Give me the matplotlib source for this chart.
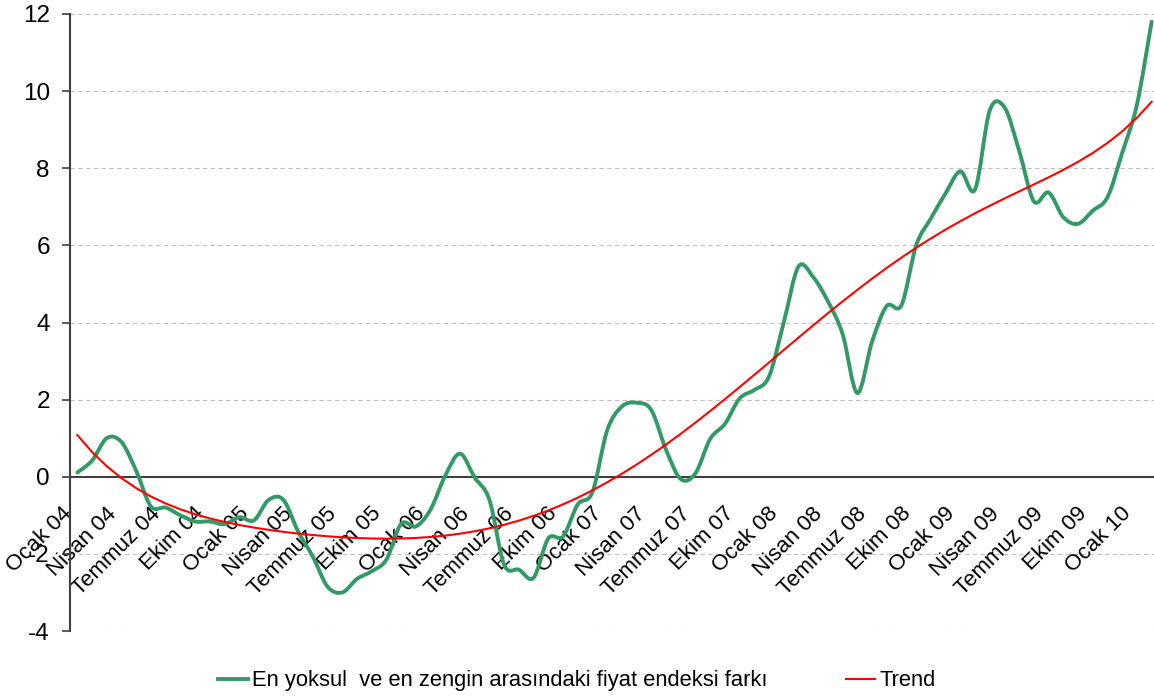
"""En yoksul ve en zengin hanelerin fiyat endeksi farkı ile polinom trend çizgisi."""

import matplotlib

matplotlib.use("Agg")
import matplotlib.pyplot as plt
import numpy as np
from matplotlib.lines import Line2D
from matplotlib.patches import PathPatch
from matplotlib.path import Path
from matplotlib.transforms import ScaledTranslation

# Aylık fark serisi: Ocak 2004 - Şubat 2010 (74 ay)
fark = [
    0.11, 0.42, 1.0, 0.9, 0.15, -0.77, -0.8, -1.0, -1.16, -1.16,
    -1.23, -1.05, -1.13, -0.6, -0.6, -1.42, -2.07, -2.85, -3.0, -2.65,
    -2.45, -2.15, -1.22, -1.29, -0.85, 0.03, 0.6, -0.02, -0.6, -2.28,
    -2.41, -2.62, -1.6, -1.55, -0.72, -0.4, 1.2, 1.82, 1.92, 1.73,
    0.7, -0.06, 0.09, 0.98, 1.37, 2.03, 2.25, 2.6, 4.0, 5.45,
    5.18, 4.55, 3.7, 2.17, 3.5, 4.43, 4.45, 6.0, 6.7, 7.35,
    7.92, 7.45, 9.5, 9.58, 8.45, 7.14, 7.37, 6.73, 6.56, 6.9,
    7.25, 8.4, 9.65, 11.8,
]

ceyrek_aylar = ["Ocak", "Nisan", "Temmuz", "Ekim"]
yillar = ["04", "05", "06", "07", "08", "09", "10"]
tick_etiketleri = [f"{ay} {yil}" for yil in yillar for ay in ceyrek_aylar][:25]
y_ticks = [-4, -2, 0, 2, 4, 6, 8, 10, 12]

SERI_ADI = "En yoksul  ve en zengin arasındaki fiyat endeksi farkı"
YESIL = "#339966"
KIRMIZI = "#ff0000"
KOYU_GRI = "#404040"

plt.rcParams["font.family"] = ["Liberation Sans", "DejaVu Sans"]
plt.rcParams["axes.unicode_minus"] = False


def smooth_path(x: np.ndarray, y: np.ndarray) -> Path:
    """Excel'in 'düzgün çizgi' seçeneğine benzer Catmull-Rom Bezier yolu kurar."""
    pts = np.column_stack([x, y])
    verts = [pts[0]]
    codes = [Path.MOVETO]
    n = len(pts)
    for i in range(n - 1):
        p0 = pts[max(i - 1, 0)]
        p1 = pts[i]
        p2 = pts[i + 1]
        p3 = pts[min(i + 2, n - 1)]
        verts += [p1 + (p2 - p0) / 6, p2 - (p3 - p1) / 6, p2]
        codes += [Path.CURVE4] * 3
    return Path(verts, codes)


def main() -> None:
    values = np.array(fark)
    months = np.arange(len(values))

    # Excel polinom eğilim çizgisi (6. derece)
    trend_poly = np.polynomial.Polynomial.fit(months + 1, values, 6)
    trend = trend_poly(months + 1)

    fig = plt.figure(figsize=(11.54, 6.97), dpi=100)
    ax = fig.add_axes([70 / 1154, 66 / 697, 1089 / 1154, 617 / 697])

    ax.add_patch(
        PathPatch(smooth_path(months, values), fill=False, edgecolor=YESIL,
                  linewidth=2.8, capstyle="round", joinstyle="round", zorder=3)
    )
    ax.plot(months, trend, color=KIRMIZI, linewidth=1.5, zorder=4)

    ax.set_xlim(-0.5, len(values) - 0.5)
    ax.set_ylim(-4, 12)

    for value in y_ticks:
        if value != 0:
            ax.axhline(value, color="#c0c0c0", linewidth=0.8, linestyle=(0, (4, 3)), zorder=1)

    for side in ["top", "right"]:
        ax.spines[side].set_visible(False)
    ax.spines["bottom"].set_position(("data", 0))
    ax.spines["bottom"].set_color(KOYU_GRI)
    ax.spines["bottom"].set_linewidth(1.5)
    ax.spines["bottom"].set_zorder(2)
    ax.spines["left"].set_color(KOYU_GRI)
    ax.spines["left"].set_linewidth(1.5)

    ax.set_yticks(y_ticks)
    ax.set_yticklabels([str(v) for v in y_ticks])
    ax.tick_params(axis="y", length=6, width=1.2, color=KOYU_GRI, pad=8.5, labelsize=17.5)

    ax.set_xticks(months[::3])
    ax.set_xticklabels(tick_etiketleri, rotation=45, ha="right", va="top",
                       rotation_mode="anchor", fontsize=16)
    ax.tick_params(axis="x", length=0, pad=19)
    offset = ScaledTranslation(-0.16, 0, fig.dpi_scale_trans)
    for label in ax.get_xticklabels():
        label.set_transform(label.get_transform() + offset)

    handles = [
        Line2D([], [], color=YESIL, linewidth=2.8),
        Line2D([], [], color=KIRMIZI, linewidth=1.5),
    ]
    fig.legend(handles, [SERI_ADI, "Trend"], loc="center", bbox_to_anchor=(0.5, 0.023),
               ncol=2, frameon=False, fontsize=15.8, handlelength=1.35,
               handletextpad=0.2, columnspacing=3.55)

    fig.savefig("out.png", dpi=100)
    plt.close(fig)


if __name__ == "__main__":
    main()
